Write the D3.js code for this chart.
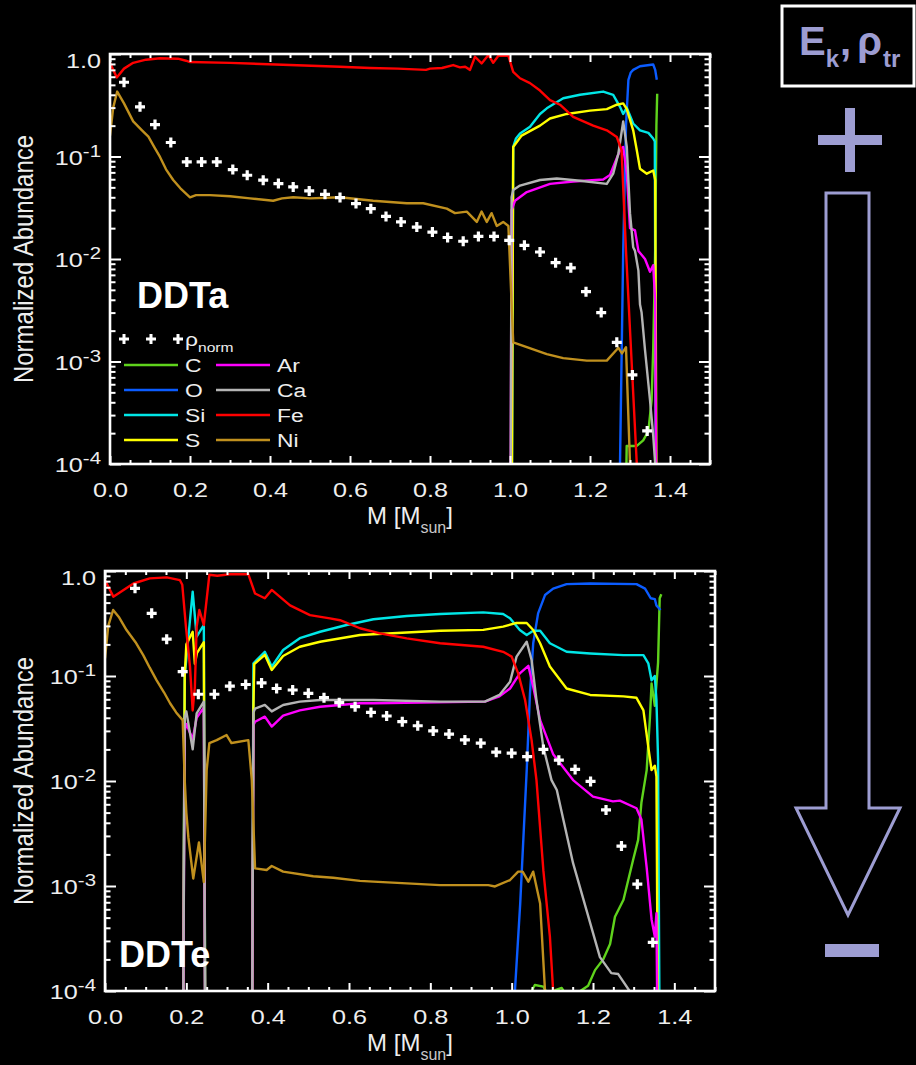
<!DOCTYPE html>
<html>
<head>
<meta charset="utf-8">
<script src="https://cdn.jsdelivr.net/npm/d3@7"></script>
<style>
  body { margin: 0; background: #000; }
  svg { display: block; }
  text { font-family: "Liberation Sans", Arial, Helvetica, sans-serif; }
</style>
</head>
<body>
<svg id="chart" width="916" height="1065"></svg>
<script>
// element names and line colours, in legend order
const elements = ["C", "O", "Si", "S", "Ar", "Ca", "Fe", "Ni"];
const colors = ["#5fd31c", "#0b5cff", "#00e6e6", "#ffff00", "#ff00ff", "#b4b4b4", "#ff0000", "#c0901e"];

const xMajor = [0, 0.2, 0.4, 0.6, 0.8, 1.0, 1.2, 1.4];
const yMajor = [1e-4, 1e-3, 1e-2, 1e-1, 1];
const yLabels = [["10", "-4"], ["10", "-3"], ["10", "-2"], ["10", "-1"], ["1.0", ""]];

const BELOW = 1e-6; // value under the axis floor (line runs off the plot)

// ---- DDTa: [mass, abundance] ----
const ddtaC = [[1.284, BELOW], [1.2917, 1.5e-4], [1.317, 1.5e-4], [1.333, 1.7e-4], [1.346, 2.1e-4], [1.354, 4.2e-4], [1.358, 1.3e-3], [1.363, 0.012], [1.366, 0.2], [1.368, 0.41]];
const ddtaO = [[1.272, BELOW], [1.275, 1e-4], [1.283, 0.012], [1.29, 0.2], [1.296, 0.56], [1.302, 0.66], [1.308, 0.70], [1.325, 0.76], [1.358, 0.79], [1.363, 0.70], [1.367, 0.56]];
const ddtaSi = [[1.003, BELOW], [1.008, 0.124], [1.015, 0.15], [1.025, 0.168], [1.05, 0.195], [1.075, 0.26], [1.092, 0.295], [1.133, 0.37], [1.175, 0.40], [1.233, 0.43], [1.258, 0.40], [1.275, 0.305], [1.283, 0.26], [1.292, 0.30], [1.308, 0.21], [1.325, 0.18], [1.346, 0.17], [1.358, 0.15], [1.362, 0.14], [1.366, BELOW]];
const ddtaS = [[1.003, BELOW], [1.008, 0.124], [1.029, 0.16], [1.075, 0.20], [1.1, 0.235], [1.142, 0.26], [1.2, 0.28], [1.242, 0.29], [1.267, 0.32], [1.283, 0.33], [1.292, 0.29], [1.308, 0.18], [1.317, 0.115], [1.325, 0.076], [1.342, 0.068], [1.358, 0.073], [1.363, 0.059], [1.368, BELOW]];
const ddtaAr = [[1.0, BELOW], [1.004, 0.03], [1.0125, 0.037], [1.042, 0.045], [1.1, 0.054], [1.158, 0.057], [1.233, 0.0596], [1.25, 0.066], [1.275, 0.115], [1.283, 0.124], [1.292, 0.068], [1.3, 0.020], [1.3125, 0.019], [1.321, 0.012], [1.3375, 0.010], [1.35, 0.0075], [1.358, 0.0087], [1.363, 0.0039], [1.368, BELOW]];
const ddtaCa = [[1.0, BELOW], [1.004, 0.04], [1.008, 0.047], [1.025, 0.052], [1.075, 0.059], [1.117, 0.061], [1.175, 0.058], [1.242, 0.054], [1.258, 0.068], [1.271, 0.107], [1.283, 0.22], [1.292, 0.124], [1.3, 0.028], [1.308, 0.013], [1.3125, 0.012], [1.321, 0.0077], [1.325, 0.0036], [1.329, 0.0030], [1.3375, 0.0013], [1.35, 0.00042], [1.358, 0.00019], [1.363, 1e-4], [1.366, BELOW]];
const ddtaFe = [[0, 0.82], [0.017, 0.59], [0.035, 0.72], [0.058, 0.82], [0.09, 0.88], [0.125, 0.91], [0.17, 0.9], [0.19, 0.86], [0.2, 0.835], [0.3, 0.82], [0.45, 0.78], [0.575, 0.75], [0.65, 0.73], [0.72, 0.72], [0.79, 0.70], [0.8, 0.72], [0.83, 0.73], [0.858, 0.78], [0.875, 0.74], [0.888, 0.75], [0.9, 0.70], [0.9125, 0.94], [0.929, 0.81], [0.946, 0.98], [0.958, 0.82], [0.971, 0.96], [0.996, 0.96], [1.008, 0.67], [1.025, 0.58], [1.05, 0.52], [1.075, 0.44], [1.1, 0.355], [1.125, 0.32], [1.158, 0.244], [1.208, 0.20], [1.242, 0.18], [1.267, 0.155], [1.279, 0.115], [1.283, 0.05], [1.29, 0.012], [1.317, 1e-4], [1.33, BELOW]];
const ddtaNi = [[0, 0.16], [0.008, 0.3], [0.018, 0.43], [0.035, 0.33], [0.058, 0.22], [0.08, 0.18], [0.096, 0.156], [0.11, 0.125], [0.125, 0.099], [0.14, 0.075], [0.158, 0.059], [0.176, 0.049], [0.2, 0.040], [0.215, 0.042], [0.25, 0.042], [0.3, 0.041], [0.35, 0.039], [0.408, 0.037], [0.43, 0.039], [0.458, 0.040], [0.5, 0.039], [0.575, 0.040], [0.658, 0.037], [0.742, 0.035], [0.783, 0.035], [0.842, 0.031], [0.8625, 0.028], [0.892, 0.029], [0.917, 0.023], [0.929, 0.029], [0.942, 0.023], [0.954, 0.028], [0.967, 0.021], [0.983, 0.023], [0.996, 0.021], [1.008, 0.00154], [1.042, 0.00138], [1.092, 0.00118], [1.133, 0.00108], [1.192, 0.00102], [1.242, 0.00102], [1.271, 0.00136], [1.28, 0.0012], [1.29, 0.00138], [1.30, 1e-4], [1.305, BELOW]];
const ddtaRho = [[0.035, 0.53], [0.075, 0.305], [0.1125, 0.205], [0.152, 0.137], [0.192, 0.0886], [0.229, 0.0886], [0.267, 0.0886], [0.307, 0.0746], [0.343, 0.0656], [0.383, 0.0587], [0.421, 0.0544], [0.458, 0.0505], [0.498, 0.0461], [0.5375, 0.0428], [0.575, 0.0397], [0.615, 0.0347], [0.652, 0.031], [0.69, 0.026], [0.7275, 0.023], [0.767, 0.0205], [0.806, 0.0183], [0.844, 0.0162], [0.883, 0.0149], [0.921, 0.0166], [0.96, 0.0166], [0.998, 0.0152], [1.036, 0.0136], [1.075, 0.0117], [1.114, 0.0092], [1.152, 0.0082], [1.19, 0.0048], [1.228, 0.0030], [1.267, 0.00154], [1.306, 0.00074], [1.343, 0.00021]];

// ---- DDTe ----
const ddteC = [[1.045, BELOW], [1.049, 1e-4], [1.057, 1.14e-4], [1.078, 1.1e-4], [1.09, 9e-5], [1.102, 1e-4], [1.123, 1.07e-4], [1.135, 9e-5], [1.151, 9e-5], [1.188, 1.12e-4], [1.205, 1.58e-4], [1.225, 2e-4], [1.242, 2.8e-4], [1.254, 5.1e-4], [1.275, 7.4e-4], [1.299, 0.0018], [1.311, 0.00275], [1.319, 0.0062], [1.332, 0.0127], [1.34, 0.04], [1.344, 0.085], [1.352, 0.052], [1.36, 0.134], [1.364, 0.55], [1.368, 0.6]];
const ddteO = [[1.0, BELOW], [1.008, 1e-4], [1.021, 0.00068], [1.037, 0.0127], [1.045, 0.068], [1.053, 0.205], [1.065, 0.395], [1.082, 0.59], [1.102, 0.68], [1.135, 0.75], [1.193, 0.76], [1.307, 0.75], [1.328, 0.68], [1.342, 0.55], [1.352, 0.54], [1.356, 0.47], [1.366, 0.425]];
const ddteSi = [[0.19, BELOW], [0.196, 0.1], [0.2156, 0.635], [0.2254, 0.237], [0.232, 0.26], [0.243, 0.306], [0.248, BELOW], [0.36, BELOW], [0.365, 0.132], [0.393, 0.17], [0.41, 0.123], [0.438, 0.177], [0.479, 0.229], [0.529, 0.264], [0.594, 0.306], [0.66, 0.347], [0.742, 0.373], [0.824, 0.39], [0.93, 0.404], [0.979, 0.39], [0.996, 0.354], [1.02, 0.274], [1.037, 0.246], [1.053, 0.27], [1.07, 0.27], [1.094, 0.205], [1.135, 0.17], [1.193, 0.164], [1.275, 0.158], [1.324, 0.158], [1.336, 0.132], [1.344, 0.091], [1.352, 0.1], [1.356, 0.059], [1.36, 0.016], [1.366, BELOW]];
const ddteS = [[0.19, BELOW], [0.196, 0.1], [0.2, 0.2], [0.2156, 0.264], [0.221, 0.13], [0.226, 0.165], [0.243, 0.21], [0.248, BELOW], [0.36, BELOW], [0.365, 0.051], [0.367, 0.13], [0.393, 0.159], [0.41, 0.114], [0.438, 0.155], [0.479, 0.19], [0.529, 0.212], [0.627, 0.246], [0.66, 0.25], [0.742, 0.26], [0.824, 0.27], [0.93, 0.275], [0.979, 0.295], [1.012, 0.32], [1.037, 0.32], [1.053, 0.274], [1.07, 0.205], [1.094, 0.123], [1.135, 0.076], [1.193, 0.066], [1.275, 0.064], [1.307, 0.062], [1.324, 0.047], [1.336, 0.021], [1.344, 0.0127], [1.352, 0.014], [1.356, 0.011], [1.362, BELOW]];
const ddteAr = [[0.19, BELOW], [0.196, 0.03], [0.2, 0.035], [0.2156, 0.025], [0.2254, 0.04], [0.243, 0.05], [0.248, BELOW], [0.36, BELOW], [0.365, 0.034], [0.369, 0.0367], [0.393, 0.041], [0.41, 0.033], [0.438, 0.042], [0.479, 0.047], [0.529, 0.051], [0.627, 0.055], [0.66, 0.055], [0.934, 0.057], [0.97, 0.064], [0.996, 0.076], [1.02, 0.106], [1.041, 0.125], [1.053, 0.079], [1.07, 0.038], [1.102, 0.018], [1.151, 0.0102], [1.2, 0.0071], [1.249, 0.0064], [1.266, 0.0065], [1.307, 0.0055], [1.319, 0.0043], [1.332, 0.0015], [1.344, 0.00048], [1.352, 0.00033], [1.356, 0.00055], [1.362, BELOW]];
const ddteCa = [[0.19, BELOW], [0.196, 0.04], [0.2, 0.046], [0.2156, 0.02], [0.2254, 0.044], [0.243, 0.057], [0.248, BELOW], [0.36, BELOW], [0.365, 0.045], [0.369, 0.049], [0.393, 0.053], [0.41, 0.046], [0.438, 0.053], [0.479, 0.057], [0.529, 0.059], [0.66, 0.059], [0.824, 0.057], [0.934, 0.057], [0.97, 0.066], [0.996, 0.088], [1.012, 0.153], [1.037, 0.212], [1.049, 0.142], [1.061, 0.059], [1.078, 0.021], [1.098, 0.0102], [1.111, 0.0082], [1.127, 0.0043], [1.151, 0.00165], [1.184, 0.00059], [1.217, 0.00021], [1.245, 1.48e-4], [1.262, 1.45e-4], [1.29, 1e-4], [1.3, BELOW]];
const ddteFe = [[0, 0.82], [0.0205, 0.57], [0.07, 0.76], [0.11, 0.85], [0.152, 0.87], [0.184, 0.82], [0.19, 0.74], [0.199, 0.295], [0.209, 0.123], [0.2156, 0.047], [0.221, 0.079], [0.2254, 0.295], [0.232, 0.425], [0.243, 0.306], [0.2566, 0.92], [0.276, 0.90], [0.307, 0.93], [0.3525, 0.93], [0.369, 0.61], [0.393, 0.55], [0.41, 0.66], [0.455, 0.47], [0.504, 0.38], [0.553, 0.354], [0.578, 0.34], [0.627, 0.285], [0.676, 0.255], [0.742, 0.228], [0.824, 0.205], [0.93, 0.19], [0.979, 0.17], [1.0, 0.153], [1.016, 0.106], [1.033, 0.059], [1.049, 0.0245], [1.061, 0.0102], [1.078, 0.0014], [1.094, 0.00033], [1.102, 1e-4], [1.11, BELOW]];
const ddteNi = [[0, 0.147], [0.008, 0.3], [0.02, 0.425], [0.035, 0.36], [0.053, 0.274], [0.075, 0.21], [0.094, 0.158], [0.11, 0.12], [0.127, 0.091], [0.145, 0.07], [0.16, 0.055], [0.175, 0.045], [0.191, 0.038], [0.196, 0.0102], [0.2, 0.005], [0.205, 0.0029], [0.217, 0.00118], [0.231, 0.0026], [0.243, 0.00109], [0.25, 0.0127], [0.2566, 0.023], [0.2746, 0.0245], [0.299, 0.0274], [0.311, 0.023], [0.3525, 0.0245], [0.361, 0.0102], [0.369, 0.00147], [0.3975, 0.00142], [0.41, 0.00155], [0.438, 0.00137], [0.512, 0.00124], [0.561, 0.0012], [0.627, 0.00112], [0.66, 0.0011], [0.824, 0.00102], [0.9425, 0.00102], [0.959, 0.00099], [0.996, 0.00114], [1.016, 0.00137], [1.027, 0.00137], [1.041, 0.0011], [1.053, 0.00137], [1.07, 0.00068], [1.082, 1e-4], [1.09, BELOW]];
const ddteRho = [[0.0738, 0.684], [0.1148, 0.395], [0.1517, 0.224], [0.191, 0.110], [0.2295, 0.067], [0.269, 0.067], [0.307, 0.080], [0.346, 0.083], [0.385, 0.086], [0.422, 0.076], [0.4615, 0.0736], [0.5, 0.0684], [0.5385, 0.0622], [0.576, 0.0557], [0.615, 0.051], [0.654, 0.045], [0.6926, 0.0416], [0.731, 0.0367], [0.769, 0.0336], [0.807, 0.030], [0.846, 0.028], [0.885, 0.0246], [0.924, 0.0229], [0.962, 0.0188], [1.0, 0.0184], [1.038, 0.0171], [1.078, 0.020], [1.116, 0.0158], [1.156, 0.0129], [1.194, 0.0099], [1.232, 0.0053], [1.27, 0.0024], [1.309, 0.00104], [1.347, 0.00029]];

const svg = d3.select("#chart");
svg.append("rect").attr("width", 916).attr("height", 1065).attr("fill", "#000");

const textColor = "#eeeeee";
const wide = 1.2;          // the original lettering is drawn a little wide
const plus = "M-5,0H5M0,-5V5";

function drawPanel(p) {
  const g = svg.append("g");
  const x = d3.scaleLinear().domain([0, 1.5]).range([p.left, p.right]);
  const y = d3.scaleLog().domain([1e-4, 1]).range([p.bottom, p.top]);

  const clipId = "clip-" + p.name;
  svg.append("clipPath").attr("id", clipId)
    .append("rect").attr("x", p.left).attr("y", p.top)
    .attr("width", p.right - p.left).attr("height", p.bottom - p.top);

  const line = d3.line().x(d => x(d[0])).y(d => y(d[1]));
  g.append("g").attr("clip-path", `url(#${clipId})`)
    .selectAll("path").data(p.series).join("path")
    .attr("d", d => line(d))
    .attr("fill", "none")
    .attr("stroke", (d, i) => colors[i])
    .attr("stroke-width", 2.4)
    .attr("stroke-linejoin", "round");

  // density markers
  g.append("g").attr("clip-path", `url(#${clipId})`)
    .selectAll("path").data(p.rho).join("path")
    .attr("d", plus)
    .attr("transform", d => `translate(${x(d[0])},${y(d[1])})`)
    .attr("stroke", "#fff").attr("stroke-width", 3.2);

  // ticks (inward, IDL style box)
  const xMinor = d3.range(0, 1.5001, 0.05).filter(v => Math.abs(v / 0.2 - Math.round(v / 0.2)) > 1e-6);
  const yMinor = [];
  for (let e = -4; e < 0; e++) for (let k = 2; k <= 9; k++) yMinor.push(k * Math.pow(10, e));

  const styleAxis = sel => {
    sel.select(".domain").remove();
    sel.selectAll("line").attr("stroke", "#fff").attr("stroke-width", 2);
  };
  g.append("g").attr("transform", `translate(0,${p.bottom})`)
    .call(d3.axisBottom(x).tickValues(xMajor).tickSizeInner(-8).tickSizeOuter(0).tickPadding(18).tickFormat(d3.format(".1f")))
    .call(styleAxis)
    .call(s => s.selectAll("text").attr("fill", textColor).attr("font-size", 21)
      .attr("font-family", null).attr("transform", `scale(${wide},1)`));
  g.append("g").attr("transform", `translate(0,${p.bottom})`)
    .call(d3.axisBottom(x).tickValues(xMinor).tickSizeInner(-4).tickSizeOuter(0).tickFormat(""))
    .call(styleAxis);
  g.append("g").attr("transform", `translate(0,${p.top})`)
    .call(d3.axisTop(x).tickValues(xMajor).tickSizeInner(-8).tickSizeOuter(0).tickFormat(""))
    .call(styleAxis);
  g.append("g").attr("transform", `translate(0,${p.top})`)
    .call(d3.axisTop(x).tickValues(xMinor).tickSizeInner(-4).tickSizeOuter(0).tickFormat(""))
    .call(styleAxis);
  g.append("g").attr("transform", `translate(${p.left},0)`)
    .call(d3.axisLeft(y).tickValues(yMajor).tickSizeInner(-11).tickSizeOuter(0).tickFormat(""))
    .call(styleAxis);
  g.append("g").attr("transform", `translate(${p.left},0)`)
    .call(d3.axisLeft(y).tickValues(yMinor).tickSizeInner(-5.5).tickSizeOuter(0).tickFormat(""))
    .call(styleAxis);
  g.append("g").attr("transform", `translate(${p.right},0)`)
    .call(d3.axisRight(y).tickValues(yMajor).tickSizeInner(-11).tickSizeOuter(0).tickFormat(""))
    .call(styleAxis);
  g.append("g").attr("transform", `translate(${p.right},0)`)
    .call(d3.axisRight(y).tickValues(yMinor).tickSizeInner(-5.5).tickSizeOuter(0).tickFormat(""))
    .call(styleAxis);

  g.append("rect")
    .attr("x", p.left).attr("y", p.top)
    .attr("width", p.right - p.left).attr("height", p.bottom - p.top)
    .attr("fill", "none").attr("stroke", "#fff").attr("stroke-width", 2.6);

  // y tick labels with superscripts
  const yl = g.append("g").attr("fill", textColor).attr("font-size", 21).attr("text-anchor", "end");
  yMajor.forEach((v, i) => {
    const off = yLabels[i][1] ? 8 : 14;
    const t = yl.append("text")
      .attr("transform", `translate(${p.left - 9},${y(v) + off}) scale(${wide},1)`);
    t.append("tspan").text(yLabels[i][0]);
    if (yLabels[i][1]) t.append("tspan").attr("font-size", 17).attr("dy", -8).text(yLabels[i][1]);
  });

  // axis titles
  g.append("text")
    .attr("transform", `translate(33,${(p.top + p.bottom) / 2}) rotate(-90) scale(1,1.15)`)
    .attr("text-anchor", "middle").attr("fill", textColor).attr("font-size", 24)
    .text("Normalized Abundance");
  const xt = g.append("text")
    .attr("x", (p.left + p.right) / 2).attr("y", p.bottom + 60)
    .attr("text-anchor", "middle").attr("fill", textColor).attr("font-size", 24);
  xt.append("tspan").text("M [M");
  xt.append("tspan").attr("font-size", 16).attr("dy", 9).attr("fill", "#c8c8c8").text("sun");
  xt.append("tspan").attr("dy", -9).text("]");

  g.append("text")
    .attr("x", p.labelX).attr("y", p.labelY)
    .attr("fill", "#fff").attr("font-size", 36).attr("font-weight", "bold")
    .text(p.name);

  return { x, y, g };
}

drawPanel({
  name: "DDTa", left: 110, right: 710, top: 54, bottom: 464, labelX: 137, labelY: 308,
  series: [ddtaC, ddtaO, ddtaSi, ddtaS, ddtaAr, ddtaCa, ddtaFe, ddtaNi], rho: ddtaRho
});
drawPanel({
  name: "DDTe", left: 105, right: 715, top: 571, bottom: 991, labelX: 119, labelY: 967,
  series: [ddteC, ddteO, ddteSi, ddteS, ddteAr, ddteCa, ddteFe, ddteNi], rho: ddteRho
});

// legend (top panel only)
const lg = svg.append("g").attr("font-size", 19).attr("fill", textColor);
[124, 151, 178].forEach(px => {
  lg.append("path").attr("d", plus).attr("transform", `translate(${px},339)`)
    .attr("stroke", "#fff").attr("stroke-width", 3);
});
const rhoText = lg.append("text").attr("transform", `translate(185,346) scale(${wide},1)`);
rhoText.append("tspan").text("ρ");
rhoText.append("tspan").attr("font-size", 13).attr("dy", 6).text("norm");
elements.forEach((el, i) => {
  const col = Math.floor(i / 4), row = i % 4;
  const x0 = col === 0 ? 124 : 216;
  const yy = 365 + row * 25;
  lg.append("line").attr("x1", x0).attr("x2", x0 + 54).attr("y1", yy).attr("y2", yy)
    .attr("stroke", colors[i]).attr("stroke-width", 2.6);
  lg.append("text").attr("transform", `translate(${x0 + 61},${yy + 7}) scale(${wide},1)`).text(el);
});

// right-hand annotation: E_k, rho_tr with arrow from + to -
const lav = "#9d9dd2";
const ann = svg.append("g");
ann.append("rect").attr("x", 782).attr("y", 6).attr("width", 132).attr("height", 80)
  .attr("fill", "none").attr("stroke", "#fff").attr("stroke-width", 3);
const et = ann.append("text").attr("x", 799).attr("y", 55).attr("fill", lav)
  .attr("font-size", 40).attr("font-weight", "bold");
et.append("tspan").text("E");
et.append("tspan").attr("font-size", 24).attr("dy", 12).text("k");
et.append("tspan").attr("dy", -12).attr("dx", 1).text(",");
et.append("tspan").attr("dx", 6).text("ρ");
et.append("tspan").attr("font-size", 24).attr("dy", 12).attr("dx", 1).text("tr");
ann.append("rect").attr("x", 818).attr("y", 135).attr("width", 64).attr("height", 10).attr("fill", lav);
ann.append("rect").attr("x", 845).attr("y", 108).attr("width", 10).attr("height", 64).attr("fill", lav);
ann.append("path")
  .attr("d", "M826,193H869V808H900L848,915L796,808H826Z")
  .attr("fill", "none").attr("stroke", lav).attr("stroke-width", 3).attr("stroke-linejoin", "miter");
ann.append("rect").attr("x", 825).attr("y", 944).attr("width", 54).attr("height", 13).attr("fill", lav);
</script>
</body>
</html>
